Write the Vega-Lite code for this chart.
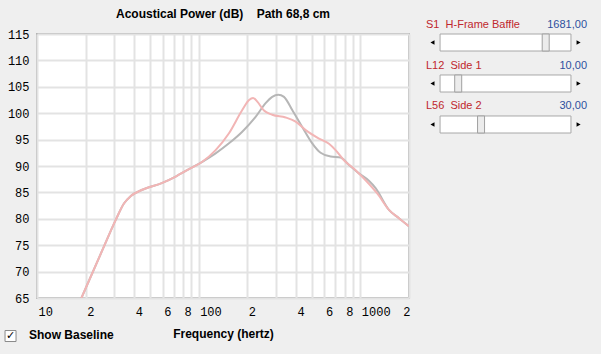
{
  "$schema": "https://vega.github.io/schema/vega-lite/v6.json",
  "background": "#efefef",
  "padding": {"left": 2, "top": 7, "right": 16, "bottom": 16},
  "spacing": 14,
  "config": {"view": {"stroke": null}, "font": "Liberation Sans"},
  "hconcat": [
    {
      "width": 372,
      "height": 264,
      "title": {"text": "Acoustical Power (dB)\u00a0\u00a0\u00a0 Path 68,8 cm", "font": "Liberation Sans", "fontSize": 12, "fontWeight": "bold", "color": "#000000", "anchor": "middle", "offset": 7},
      "view": {"stroke": "#b4b4b4", "strokeWidth": 2, "fill": "#ffffff"},
      "layer": [
        {
          "data": {"values": [
            {"series": "Baseline", "f": 18.8, "db": 64.95},
            {"series": "Baseline", "f": 25.4, "db": 74.1},
            {"series": "Baseline", "f": 30.7, "db": 79.8},
            {"series": "Baseline", "f": 34.5, "db": 82.9},
            {"series": "Baseline", "f": 38, "db": 84.3},
            {"series": "Baseline", "f": 44.8, "db": 85.5},
            {"series": "Baseline", "f": 59.6, "db": 86.8},
            {"series": "Baseline", "f": 72.1, "db": 88.0},
            {"series": "Baseline", "f": 87.1, "db": 89.4},
            {"series": "Baseline", "f": 105.3, "db": 90.8},
            {"series": "Baseline", "f": 127.3, "db": 92.4},
            {"series": "Baseline", "f": 154, "db": 94.3},
            {"series": "Baseline", "f": 186, "db": 96.5},
            {"series": "Baseline", "f": 225, "db": 99.3},
            {"series": "Baseline", "f": 259.5, "db": 101.9},
            {"series": "Baseline", "f": 285, "db": 103.1},
            {"series": "Baseline", "f": 311, "db": 103.5},
            {"series": "Baseline", "f": 337, "db": 103.1},
            {"series": "Baseline", "f": 379, "db": 100.6},
            {"series": "Baseline", "f": 437, "db": 97.4},
            {"series": "Baseline", "f": 504, "db": 94.3},
            {"series": "Baseline", "f": 568, "db": 92.5},
            {"series": "Baseline", "f": 655, "db": 91.8},
            {"series": "Baseline", "f": 755, "db": 91.6},
            {"series": "Baseline", "f": 850, "db": 90.2},
            {"series": "Baseline", "f": 980, "db": 88.6},
            {"series": "Baseline", "f": 1130, "db": 87.2},
            {"series": "Baseline", "f": 1243, "db": 85.8},
            {"series": "Baseline", "f": 1503, "db": 81.7},
            {"series": "Baseline", "f": 1733, "db": 80.1},
            {"series": "Baseline", "f": 1995, "db": 78.6},
            {"series": "Current", "f": 18.8, "db": 64.95},
            {"series": "Current", "f": 25.4, "db": 74.1},
            {"series": "Current", "f": 30.7, "db": 79.8},
            {"series": "Current", "f": 34.5, "db": 82.9},
            {"series": "Current", "f": 38, "db": 84.3},
            {"series": "Current", "f": 44.8, "db": 85.5},
            {"series": "Current", "f": 59.6, "db": 86.8},
            {"series": "Current", "f": 72.1, "db": 88.0},
            {"series": "Current", "f": 87.1, "db": 89.4},
            {"series": "Current", "f": 105.3, "db": 90.8},
            {"series": "Current", "f": 127.3, "db": 93.0},
            {"series": "Current", "f": 154, "db": 96.2},
            {"series": "Current", "f": 186, "db": 100.6},
            {"series": "Current", "f": 205, "db": 102.5},
            {"series": "Current", "f": 217, "db": 102.9},
            {"series": "Current", "f": 230.5, "db": 102.2},
            {"series": "Current", "f": 253.5, "db": 100.5},
            {"series": "Current", "f": 285, "db": 99.7},
            {"series": "Current", "f": 345, "db": 99.2},
            {"series": "Current", "f": 398, "db": 98.4},
            {"series": "Current", "f": 459, "db": 96.8},
            {"series": "Current", "f": 555, "db": 95.2},
            {"series": "Current", "f": 640, "db": 94.2},
            {"series": "Current", "f": 703, "db": 93.0},
            {"series": "Current", "f": 792, "db": 91.1},
            {"series": "Current", "f": 935, "db": 89.2},
            {"series": "Current", "f": 1078, "db": 87.3},
            {"series": "Current", "f": 1272, "db": 84.8},
            {"series": "Current", "f": 1503, "db": 81.7},
            {"series": "Current", "f": 1733, "db": 80.1},
            {"series": "Current", "f": 1995, "db": 78.6}
          ]},
          "mark": {"type": "line", "strokeWidth": 2, "interpolate": "monotone", "clip": true},
          "encoding": {
            "x": {
              "field": "f", "type": "quantitative",
              "scale": {"type": "log", "domain": [10, 2000], "nice": false},
              "axis": {
                "values": [10, 20, 30, 40, 50, 60, 70, 80, 90, 100, 200, 300, 400, 500, 600, 700, 800, 900, 1000, 2000],
                "labelExpr": "indexof([10,100,1000], datum.value) >= 0 ? toString(datum.value) : (indexof([20,40,60,80,200,400,600,800,2000], datum.value) >= 0 ? slice(toString(datum.value), 0, 1) : '')",
                "grid": true, "gridColor": "#e3e3e3", "gridWidth": 2,
                "ticks": false, "domain": false,
                "labelAlign": {"condition": {"test": "datum.value == 2000", "value": "right"}, "value": "left"},
                "labelFlush": false, "labelOverlap": false, "labelOffset": 1,
                "labelPadding": 8, "labelFont": "Liberation Mono", "labelFontSize": 12, "labelColor": "#000000",
                "title": "Frequency (hertz)", "titleFont": "Liberation Sans", "titleFontSize": 12, "titleFontWeight": "bold", "titleColor": "#000000", "titlePadding": 11
              }
            },
            "y": {
              "field": "db", "type": "quantitative",
              "scale": {"domain": [65, 115], "nice": false},
              "axis": {
                "values": [65, 70, 75, 80, 85, 90, 95, 100, 105, 110, 115],
                "grid": true, "gridColor": "#e3e3e3", "gridWidth": 2,
                "ticks": false, "domain": false, "labelOverlap": false, "labelFlush": false,
                "labelPadding": 8, "labelFont": "Liberation Mono", "labelFontSize": 12, "labelColor": "#000000",
                "title": null
              }
            },
            "color": {"field": "series", "type": "nominal", "scale": {"domain": ["Baseline", "Current"], "range": ["#b6b6b6", "#f2b5b5"]}, "legend": null}
          }
        },
        {
          "data": {"values": [{}]},
          "mark": {"type": "point", "shape": "square", "size": 121, "filled": true, "fill": "#ffffff", "stroke": "#8a8a8a", "strokeWidth": 1, "opacity": 1},
          "encoding": {
            "x": {"datum": 6.86, "type": "quantitative"},
            "y": {"datum": 57.8, "type": "quantitative", "axis": {"values": [65, 70, 75, 80, 85, 90, 95, 100, 105, 110, 115], "grid": true, "gridColor": "#e3e3e3", "gridWidth": 2, "ticks": false, "domain": false, "labelOverlap": false, "labelFlush": false, "labelPadding": 8, "labelFont": "Liberation Mono", "labelFontSize": 12, "labelColor": "#000000", "title": null}}
          }
        },
        {
          "data": {"values": [{}]},
          "mark": {"type": "text", "text": "\u2713", "font": "DejaVu Sans", "fontSize": 11, "fontWeight": "bold", "color": "#000000", "align": "center", "baseline": "middle"},
          "encoding": {
            "x": {"datum": 6.86, "type": "quantitative"},
            "y": {"datum": 57.8, "type": "quantitative", "axis": {"values": [65, 70, 75, 80, 85, 90, 95, 100, 105, 110, 115], "grid": true, "gridColor": "#e3e3e3", "gridWidth": 2, "ticks": false, "domain": false, "labelOverlap": false, "labelFlush": false, "labelPadding": 8, "labelFont": "Liberation Mono", "labelFontSize": 12, "labelColor": "#000000", "title": null}}
          }
        },
        {
          "data": {"values": [{}]},
          "mark": {"type": "text", "text": "Show Baseline", "font": "Liberation Sans", "fontSize": 12, "fontWeight": "bold", "color": "#000000", "align": "left", "baseline": "middle", "dx": -8, "dy": 37},
          "encoding": {
            "x": {"datum": 10, "type": "quantitative"},
            "y": {"datum": 65, "type": "quantitative", "axis": {"values": [65, 70, 75, 80, 85, 90, 95, 100, 105, 110, 115], "grid": true, "gridColor": "#e3e3e3", "gridWidth": 2, "ticks": false, "domain": false, "labelOverlap": false, "labelFlush": false, "labelPadding": 8, "labelFont": "Liberation Mono", "labelFontSize": 12, "labelColor": "#000000", "title": null}}
          }
        }
      ]
    },
    {
      "width": 162,
      "height": 99,
      "view": {"stroke": null},
      "data": {"values": [
        {"row": "S1", "name": "S1\u00a0\u00a0H-Frame Baffle", "value": "1681,00", "pos": 0.745},
        {"row": "L12", "name": "L12\u00a0\u00a0Side 1", "value": "10,00", "pos": 0.205},
        {"row": "L56", "name": "L56\u00a0\u00a0Side 2", "value": "30,00", "pos": 0.346}
      ]},
      "encoding": {
        "y": {"field": "row", "type": "nominal", "sort": null, "scale": {"domain": ["S1", "L12", "L56"], "paddingInner": 0.585, "paddingOuter": 0}, "axis": null}
      },
      "layer": [
        {
          "mark": {"type": "rect", "fill": "#ffffff", "stroke": "#a8a8a8", "strokeWidth": 1},
          "encoding": {"x": {"datum": 0.093, "type": "quantitative", "scale": {"domain": [0, 1]}, "axis": null}, "x2": {"datum": 0.901}}
        },
        {
          "mark": {"type": "point", "shape": "M-0.412,-1H0.412V1H-0.412Z", "size": 289, "filled": true, "fill": "#ececec", "stroke": "#a0a0a0", "strokeWidth": 1, "opacity": 1},
          "encoding": {"x": {"field": "pos", "type": "quantitative"}}
        },
        {
          "mark": {"type": "point", "shape": "triangle-left", "size": 22, "filled": true, "color": "#000000", "opacity": 1},
          "encoding": {"x": {"datum": 0.046, "type": "quantitative"}}
        },
        {
          "mark": {"type": "point", "shape": "triangle-right", "size": 22, "filled": true, "color": "#000000", "opacity": 1},
          "encoding": {"x": {"datum": 0.948, "type": "quantitative"}}
        },
        {
          "mark": {"type": "text", "font": "Liberation Sans", "fontSize": 11, "color": "#c0272d", "align": "left", "baseline": "middle", "dx": 1, "dy": -18},
          "encoding": {"x": {"datum": 0, "type": "quantitative"}, "text": {"field": "name"}}
        },
        {
          "mark": {"type": "text", "font": "Liberation Sans", "fontSize": 11, "color": "#2d4f9e", "align": "right", "baseline": "middle", "dy": -18},
          "encoding": {"x": {"datum": 1, "type": "quantitative"}, "text": {"field": "value"}}
        }
      ]
    }
  ]
}
